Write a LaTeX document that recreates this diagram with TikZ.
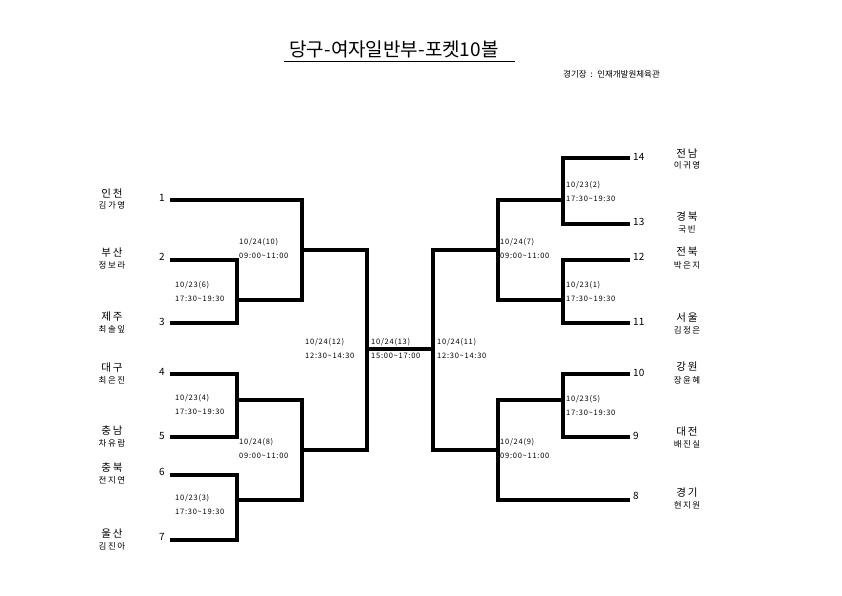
\documentclass[tikz,border=0pt]{standalone}
\usepackage{fontspec}
\setmainfont{Noto Sans CJK KR}
\newfontfamily\spaced[LetterSpace=10]{Noto Sans CJK KR}
\newfontfamily\wide[LetterSpace=18]{Noto Sans CJK KR}
\begin{document}
\begin{tikzpicture}[x=1pt,y=-1pt,
  br/.style={line width=3.6pt,line cap=rect,line join=miter,black},
  num/.style={font=\fontsize{10}{11}\selectfont,inner sep=0pt},
  reg/.style={font=\wide\fontsize{10.5}{12}\selectfont,inner sep=0pt},
  pname/.style={font=\wide\fontsize{8.5}{10}\selectfont,inner sep=0pt},
  mlab/.style={font=\spaced\fontsize{7.5}{14}\selectfont,align=left,anchor=west,inner sep=0pt}]
\useasboundingbox (0,0) rectangle (842,595);
\fill[white] (0,0) rectangle (842,595);
% title
\node[font=\fontsize{19}{21}\selectfont,inner sep=0pt] (title) at (394,49) {당구-여자일반부-포켓10볼};
\coordinate (ul1) at (284,61); \coordinate (ul2) at (515,61);
\draw[line width=0.9pt] (ul1) -- (ul2);
\node[font=\fontsize{8.5}{10}\selectfont,anchor=west,inner sep=0pt] (venue) at (563,74) {경기장 \ : \ 인재개발원체육관};
% player coordinates
\coordinate (p1) at (172,200); \coordinate (p2) at (172,260); \coordinate (p3) at (172,323);
\coordinate (p4) at (172,374); \coordinate (p5) at (172,437); \coordinate (p6) at (172,475);
\coordinate (p7) at (172,540);
\coordinate (q14) at (628,158); \coordinate (q13) at (628,224); \coordinate (q12) at (628,260);
\coordinate (q11) at (628,323); \coordinate (q10) at (628,374); \coordinate (q9) at (628,437);
\coordinate (q8) at (628,500);
% match coordinates
\coordinate (m6) at (237,300); \coordinate (m10b) at (302,300); \coordinate (m10) at (302,250);
\coordinate (m12a) at (367,250);
\coordinate (m4) at (237,400); \coordinate (m8a) at (302,400);
\coordinate (m3) at (237,500); \coordinate (m8b) at (302,500);
\coordinate (m8) at (302,450); \coordinate (m12b) at (367,450);
\coordinate (m12) at (367,349); \coordinate (m11) at (433,349);
\coordinate (m11a) at (433,250); \coordinate (m11b) at (433,450);
\coordinate (m7) at (498,250); \coordinate (m7a) at (498,200); \coordinate (m7b) at (498,300);
\coordinate (m2) at (563,200); \coordinate (m1) at (563,300);
\coordinate (m9) at (498,450); \coordinate (m9a) at (498,400); \coordinate (m9b) at (498,500);
\coordinate (m5) at (563,400);
% left bracket
\draw[br] (p2) -| (m6) |- (p3);
\draw[br] (m6) -- (m10b);
\draw[br] (p1) -| (m10b);
\draw[br] (m10) -- (m12a);
\draw[br] (p4) -| (m4) |- (p5);
\draw[br] (m4) -- (m8a);
\draw[br] (p6) -| (m3) |- (p7);
\draw[br] (m3) -- (m8b);
\draw[br] (m8a) -- (m8b);
\draw[br] (m8) -- (m12b);
\draw[br] (m12a) -- (m12b);
\draw[br] (m12) -- (m11);
% right bracket
\draw[br] (m11a) -- (m11b);
\draw[br] (m11a) -- (m7);
\draw[br] (m7a) -- (m7b);
\draw[br] (q14) -| (m2) |- (q13);
\draw[br] (m2) -- (m7a);
\draw[br] (q12) -| (m1) |- (q11);
\draw[br] (m1) -- (m7b);
\draw[br] (m11b) -- (m9);
\draw[br] (m9a) -- (m9b);
\draw[br] (q10) -| (m5) |- (q9);
\draw[br] (m5) -- (m9a);
\draw[br] (q8) -- (m9b);
% seed numbers left
\node[num] (n1) at (162,198) {1};
\node[num] (n2) at (162,257) {2};
\node[num] (n3) at (162,322) {3};
\node[num] (n4) at (162,372) {4};
\node[num] (n5) at (162,436) {5};
\node[num] (n6) at (162,472) {6};
\node[num] (n7) at (162,537) {7};
% seed numbers right
\node[num,anchor=west] (n14) at (633,157) {14};
\node[num,anchor=west] (n13) at (633,222) {13};
\node[num,anchor=west] (n12) at (633,257) {12};
\node[num,anchor=west] (n11) at (633,322) {11};
\node[num,anchor=west] (n10) at (633,373) {10};
\node[num,anchor=west] (n9) at (633,436) {9};
\node[num,anchor=west] (n8) at (633,496) {8};
% names left
\node[reg] (r1) at (112,193) {인천}; \node[pname] (s1) at (112,205) {김가영};
\node[reg] (r2) at (112,253) {부산}; \node[pname] (s2) at (112,265) {정보라};
\node[reg] (r3) at (112,317) {제주}; \node[pname] (s3) at (112,329) {최솔잎};
\node[reg] (r4) at (112,368) {대구}; \node[pname] (s4) at (112,380) {최은진};
\node[reg] (r5) at (112,431) {충남}; \node[pname] (s5) at (112,443) {차유람};
\node[reg] (r6) at (112,468) {충북}; \node[pname] (s6) at (112,480) {전지연};
\node[reg] (r7) at (112,534) {울산}; \node[pname] (s7) at (112,546) {김진아};
% names right
\node[reg] (r14) at (687,153) {전남}; \node[pname] (s14) at (687,165) {이귀영};
\node[reg] (r13) at (687,217) {경북}; \node[pname] (s13) at (687,229) {국빈};
\node[reg] (r12) at (687,252) {전북}; \node[pname] (s12) at (687,265) {박은지};
\node[reg] (r11) at (687,318) {서울}; \node[pname] (s11) at (687,330) {김정은};
\node[reg] (r10) at (687,367) {강원}; \node[pname] (s10) at (687,380) {장윤혜};
\node[reg] (r9) at (687,432) {대전}; \node[pname] (s9) at (687,444) {배진실};
\node[reg] (r8) at (687,493) {경기}; \node[pname] (s8) at (687,505) {현지원};
% match labels
\node[mlab] (l6) at (175,291) {10/23(6)\\17:30\textasciitilde 19:30};
\node[mlab] (l10) at (239,248) {10/24(10)\\09:00\textasciitilde 11:00};
\node[mlab] (l4) at (175,404) {10/23(4)\\17:30\textasciitilde 19:30};
\node[mlab] (l8) at (239,448) {10/24(8)\\09:00\textasciitilde 11:00};
\node[mlab] (l3) at (175,504) {10/23(3)\\17:30\textasciitilde 19:30};
\node[mlab] (l12) at (305,348) {10/24(12)\\12:30\textasciitilde 14:30};
\node[mlab] (l13) at (371,348) {10/24(13)\\15:00\textasciitilde 17:00};
\node[mlab] (l11) at (437,348) {10/24(11)\\12:30\textasciitilde 14:30};
\node[mlab] (l2) at (566,191) {10/23(2)\\17:30\textasciitilde 19:30};
\node[mlab] (l7) at (500,248) {10/24(7)\\09:00\textasciitilde 11:00};
\node[mlab] (l1) at (566,291) {10/23(1)\\17:30\textasciitilde 19:30};
\node[mlab] (l5) at (566,405) {10/23(5)\\17:30\textasciitilde 19:30};
\node[mlab] (l9) at (500,448) {10/24(9)\\09:00\textasciitilde 11:00};
\end{tikzpicture}
\end{document}
